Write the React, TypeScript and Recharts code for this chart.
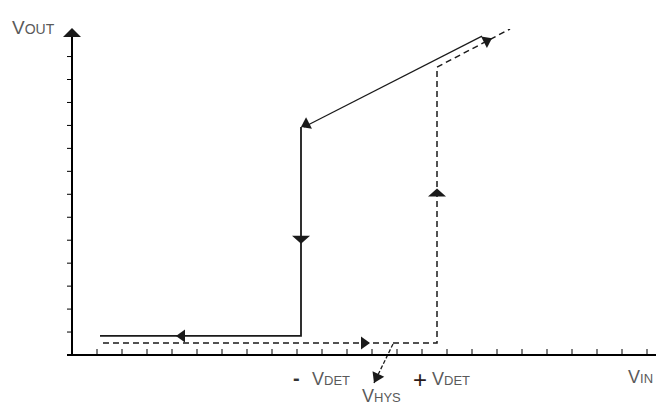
import React from 'react';
import { ComposedChart, Line, Scatter, XAxis, YAxis, ReferenceLine, ReferenceDot } from 'recharts';

// tick marks along both axes (no numbers on them)
const xTicks = [1, 2, 3, 4, 5, 6, 7, 8, 9, 10, 11, 12, 13, 14, 15, 16, 17, 18, 19, 20, 21, 22, 23];
const yTicks = [1, 2, 3, 4, 5, 6, 7, 8, 9, 10, 11, 12, 13];

// falling input: output stays high, drops at -VDET
const solidStep = [
  { x: 1.12, y: 0.83 },
  { x: 9.16, y: 0.83 },
  { x: 9.16, y: 9.93 },
];
const solidSlope = [
  { x: 9.28, y: 9.93 },
  { x: 16.4, y: 13.89 },
];

// rising input: output low until +VDET
const dashedPath = [
  { x: 1.24, y: 0.52 },
  { x: 14.6, y: 0.52 },
  { x: 14.6, y: 12.54 },
  { x: 17.52, y: 14.2 },
];

// flow arrows on the curves, dir in screen degrees (0 = right, 90 = down)
const arrows = [
  { x: 4.16, y: 0.83, dir: 180 },
  { x: 9.16, y: 4.85, dir: 90 },
  { x: 9.16, y: 9.93, dir: 153 },
  { x: 14.6, y: 7.25, dir: -90 },
  { x: 16.8, y: 13.8, dir: -27 },
  { x: 11.92, y: 0.52, dir: 0 },
];

// VHYS pointer
const hysFrom = { x: 12.84, y: 0.48 };
const hysTo = { x: 12.08, y: -1.22 };

const X_MAX = 23.52;
const Y_MAX = 14.2;
const INK = '#1a1a1a';
const TXT = '#5a5a5a';

function arrowShape(cx: number, cy: number, dir: number, len = 9, hw = 7) {
  return (
    <polygon
      points={`0,0 ${-len},${-hw} ${-len},${hw}`}
      transform={`translate(${cx},${cy}) rotate(${dir})`}
      fill={INK}
    />
  );
}

const FlowArrow = (props: any) => {
  const { cx, cy, payload } = props;
  const vertical = Math.abs(Math.abs(payload.dir) - 90) < 1;
  return arrowShape(cx, cy, payload.dir, vertical ? 8 : 9, vertical ? 9 : 6.5);
};

// ticks sit inside on the x axis, outside on the y axis
const XTick = (props: any) => (
  <line x1={props.x} x2={props.x} y1={props.y} y2={props.y - 6} stroke="#000" strokeWidth={1} />
);
const YTick = (props: any) => (
  <line x1={props.x - 5} x2={props.x} y1={props.y} y2={props.y} stroke="#000" strokeWidth={1} />
);

export default function App() {
  const sub = { fontSize: 13 };
  return (
    <div style={{ width: 656, height: 398, background: '#fff' }}>
      <ComposedChart
        width={656}
        height={398}
        margin={{ top: 21, right: 4, left: 0, bottom: 0 }}
        style={{ fontFamily: '"Liberation Sans", Arial, sans-serif' }}
      >
        <XAxis
          type="number"
          dataKey="x"
          domain={[0, X_MAX]}
          ticks={xTicks}
          interval={0}
          allowDataOverflow
          height={51}
          tick={<XTick />}
          tickSize={0}
          tickMargin={0}
          tickLine={false}
          axisLine={{ stroke: '#000', strokeWidth: 2 }}
        />
        <YAxis
          type="number"
          dataKey="y"
          domain={[0, Y_MAX]}
          ticks={yTicks}
          interval={0}
          allowDataOverflow
          width={64}
          tick={<YTick />}
          tickSize={0}
          tickMargin={0}
          tickLine={false}
          axisLine={{ stroke: '#000', strokeWidth: 2 }}
        />
        {/* short stub of the x axis left of the origin */}
        <ReferenceLine segment={[{ x: -0.2, y: 0 }, { x: 0, y: 0 }]} stroke="#000" strokeWidth={2} ifOverflow="visible" />
        <Line data={solidStep} dataKey="y" type="linear" stroke={INK} strokeWidth={1.8} dot={false} isAnimationActive={false} />
        <Line data={solidSlope} dataKey="y" type="linear" stroke={INK} strokeWidth={1.2} dot={false} isAnimationActive={false} />
        <Line data={dashedPath} dataKey="y" type="linear" stroke={INK} strokeWidth={1.5} strokeDasharray="6 4" dot={false} isAnimationActive={false} />
        <Scatter data={arrows} dataKey="y" shape={FlowArrow} isAnimationActive={false} />
        <ReferenceLine
          segment={[hysFrom, hysTo]}
          stroke={INK}
          strokeWidth={1.3}
          strokeDasharray="4 2"
          ifOverflow="visible"
        />
        <ReferenceDot
          x={hysTo.x}
          y={hysTo.y}
          ifOverflow="visible"
          shape={(p: any) => arrowShape(p.cx, p.cy, 116, 10, 6.5)}
        />
        {/* axis arrowheads */}
        <ReferenceDot
          x={0}
          y={Y_MAX}
          ifOverflow="visible"
          shape={(p: any) => arrowShape(p.cx, p.cy - 1, -90, 9, 9)}
        />
        <ReferenceDot
          x={X_MAX}
          y={0}
          ifOverflow="visible"
          shape={(p: any) => arrowShape(p.cx + 2, p.cy, 0, 5, 4)}
        />
        <g fill={TXT}>
          <text x={4} y={26} fontSize={19}>
            V<tspan style={{ fontSize: 14 }}>OUT</tspan>
          </text>
          <text x={285} y={377} fontSize={20} fontWeight="bold" fill="#333">-</text>
          <text x={304} y={377} fontSize={18}>
            V<tspan style={sub}>DET</tspan>
          </text>
          <text x={405} y={380} fontSize={24} fill="#2a1a1a">+</text>
          <text x={424} y={377} fontSize={18}>
            V<tspan style={sub}>DET</tspan>
          </text>
          <text x={354} y={394} fontSize={18}>
            V<tspan style={sub}>HYS</tspan>
          </text>
          <text x={620} y={375} fontSize={18}>
            V<tspan style={sub}>IN</tspan>
          </text>
        </g>
      </ComposedChart>
    </div>
  );
}
